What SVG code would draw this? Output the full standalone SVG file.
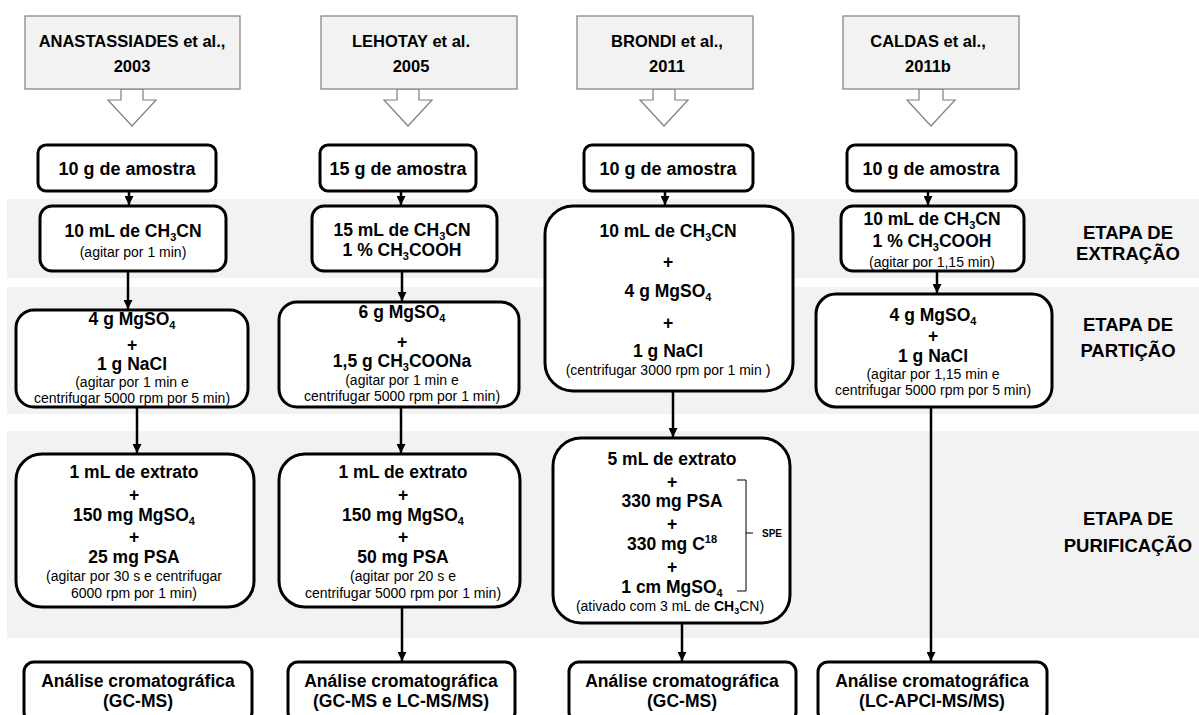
<svg xmlns="http://www.w3.org/2000/svg" width="1199" height="715" viewBox="0 0 1199 715">
<style>
text{font-family:"Liberation Sans",Arial,sans-serif;fill:#000;text-anchor:middle}
.h{font-size:16.5px;font-weight:bold}
.t{font-size:17.5px;font-weight:bold}
.a{font-size:18px;font-weight:bold}
.s{font-size:14px}
.l{font-size:18.5px;font-weight:bold}
.spe{font-size:10px;font-weight:bold}
.band{fill:#f2f2f2}
.hdr{fill:#f2f2f2;stroke:#7f7f7f;stroke-width:1.2}
.harr{fill:#fff;stroke:#7f7f7f;stroke-width:1.2}
.box{fill:#fff;stroke:#000;stroke-width:3}
.con{stroke:#000;stroke-width:2.5;fill:none;marker-end:url(#ah)}
</style>
<defs>
<marker id="ah" viewBox="0 0 10 10" refX="10" refY="5" markerWidth="9" markerHeight="9" markerUnits="userSpaceOnUse" orient="auto">
<path d="M0,0 L10,5 L0,10 z" fill="#000"/>
</marker>
</defs>
<rect width="1199" height="715" fill="#fff"/>
<g id="bands">
<rect class="band" x="7" y="199" width="1192" height="79"/>
<rect class="band" x="7" y="287" width="1192" height="127"/>
<rect class="band" x="7" y="431" width="1192" height="207"/>
</g>
<g id="stage-labels">
<text class="l" x="1128" y="239">ETAPA DE</text>
<text class="l" x="1128" y="260">EXTRAÇÃO</text>
<text class="l" x="1128" y="331">ETAPA DE</text>
<text class="l" x="1128" y="357">PARTIÇÃO</text>
<text class="l" x="1128" y="525">ETAPA DE</text>
<text class="l" x="1128" y="552">PURIFICAÇÃO</text>
</g>
<g id="connectors">
<polygon class="harr" points="121,89 121,100 108,100 132,126 156,100 143,100 143,89"/>
<polygon class="harr" points="397,89 397,100 384,100 408,126 432,100 419,100 419,89"/>
<polygon class="harr" points="653,89 653,100 640,100 664,126 688,100 675,100 675,89"/>
<polygon class="harr" points="919,89 919,100 907,100 931,126 955,100 943,100 943,89"/>
<line class="con" x1="129" y1="191" x2="129" y2="205"/>
<line class="con" x1="128" y1="271" x2="128" y2="309"/>
<line class="con" x1="137" y1="407" x2="137" y2="453"/>
<line class="con" x1="401" y1="191" x2="401" y2="205"/>
<line class="con" x1="402" y1="271" x2="402" y2="301"/>
<line class="con" x1="401" y1="407" x2="401" y2="453"/>
<line class="con" x1="402" y1="607" x2="402" y2="661"/>
<line class="con" x1="665" y1="191" x2="665" y2="205"/>
<line class="con" x1="673" y1="391" x2="673" y2="437"/>
<line class="con" x1="682" y1="623" x2="682" y2="661"/>
<line class="con" x1="928" y1="191" x2="928" y2="205"/>
<line class="con" x1="937" y1="271" x2="937" y2="293"/>
<line class="con" x1="931" y1="407" x2="931" y2="661"/>
</g>
<g id="hdr1">
<rect class="hdr" x="25" y="16" width="215" height="73"/>
<text class="h" x="132" y="47">ANASTASSIADES et al.,</text>
<text class="h" x="132" y="72">2003</text>
</g>
<g id="hdr2">
<rect class="hdr" x="321" y="16" width="196" height="73"/>
<text class="h" x="411" y="47">LEHOTAY et al.</text>
<text class="h" x="411" y="72">2005</text>
</g>
<g id="hdr3">
<rect class="hdr" x="577" y="16" width="176" height="73"/>
<text class="h" x="667" y="47">BRONDI et al.,</text>
<text class="h" x="667" y="72">2011</text>
</g>
<g id="hdr4">
<rect class="hdr" x="843" y="16" width="176" height="73"/>
<text class="h" x="928" y="47">CALDAS et al.,</text>
<text class="h" x="928" y="72">2011b</text>
</g>
<g id="c1-amostra">
<rect class="box" x="38" y="145" width="178" height="46" rx="8"/>
<text class="a" x="127" y="175">10 g de amostra</text>
</g>
<g id="c2-amostra">
<rect class="box" x="320" y="145" width="156" height="46" rx="8"/>
<text class="a" x="398" y="175">15 g de amostra</text>
</g>
<g id="c3-amostra">
<rect class="box" x="584" y="145" width="169" height="46" rx="8"/>
<text class="a" x="668" y="175">10 g de amostra</text>
</g>
<g id="c4-amostra">
<rect class="box" x="847" y="145" width="169" height="46" rx="8"/>
<text class="a" x="931" y="175">10 g de amostra</text>
</g>
<g id="c1-extracao">
<rect class="box" x="40" y="206" width="186" height="65" rx="12"/>
<text class="t" x="133" y="237">10 mL de CH<tspan font-size="11" dy="4">3</tspan><tspan dy="-4">CN</tspan></text>
<text class="s" x="133" y="257">(agitar por 1 min)</text>
</g>
<g id="c2-extracao">
<rect class="box" x="312" y="206" width="185" height="65" rx="12"/>
<text class="t" x="402" y="236">15 mL de CH<tspan font-size="11" dy="4">3</tspan><tspan dy="-4">CN</tspan></text>
<text class="t" x="402" y="256">1 % CH<tspan font-size="11" dy="4">3</tspan><tspan dy="-4">COOH</tspan></text>
</g>
<g id="c3-extracao-particao">
<rect class="box" x="545" y="206" width="248" height="185" rx="28"/>
<text class="t" x="668" y="237">10 mL de CH<tspan font-size="11" dy="4">3</tspan><tspan dy="-4">CN</tspan></text>
<text class="t" x="668" y="268">+</text>
<text class="t" x="668" y="297">4 g MgSO<tspan font-size="11" dy="4">4</tspan></text>
<text class="t" x="668" y="329">+</text>
<text class="t" x="668" y="357">1 g NaCl</text>
<text class="s" x="668" y="375">(centrifugar 3000  rpm por 1 min )</text>
</g>
<g id="c4-extracao">
<rect class="box" x="841" y="206" width="183" height="65" rx="12"/>
<text class="t" x="932" y="225">10 mL de CH<tspan font-size="11" dy="4">3</tspan><tspan dy="-4">CN</tspan></text>
<text class="t" x="932" y="247">1 % CH<tspan font-size="11" dy="4">3</tspan><tspan dy="-4">COOH</tspan></text>
<text class="s" x="932" y="267">(agitar por 1,15 min)</text>
</g>
<g id="c1-particao">
<rect class="box" x="16" y="310" width="232" height="97" rx="18"/>
<text class="t" x="132" y="325">4 g MgSO<tspan font-size="11" dy="4">4</tspan></text>
<text class="t" x="132" y="351">+</text>
<text class="t" x="132" y="370">1 g NaCl</text>
<text class="s" x="132" y="387">(agitar por 1 min e</text>
<text class="s" x="132" y="403">centrifugar 5000  rpm por 5 min)</text>
</g>
<g id="c2-particao">
<rect class="box" x="279" y="302" width="240" height="105" rx="18"/>
<text class="t" x="402" y="318">6 g MgSO<tspan font-size="11" dy="4">4</tspan></text>
<text class="t" x="402" y="348">+</text>
<text class="t" x="402" y="367">1,5 g CH<tspan font-size="11" dy="4">3</tspan><tspan dy="-4">COONa</tspan></text>
<text class="s" x="402" y="385">(agitar por 1 min e</text>
<text class="s" x="402" y="401">centrifugar 5000  rpm por 1 min)</text>
</g>
<g id="c4-particao">
<rect class="box" x="816" y="294" width="236" height="113" rx="20"/>
<text class="t" x="933" y="321">4 g MgSO<tspan font-size="11" dy="4">4</tspan></text>
<text class="t" x="933" y="342">+</text>
<text class="t" x="933" y="362">1 g NaCl</text>
<text class="s" x="933" y="379">(agitar por 1,15 min  e</text>
<text class="s" x="933" y="395">centrifugar 5000 rpm por 5 min)</text>
</g>
<g id="c1-purificacao">
<rect class="box" x="16" y="454" width="238" height="153" rx="26"/>
<text class="t" x="134" y="478">1 mL de extrato</text>
<text class="t" x="134" y="501">+</text>
<text class="t" x="134" y="521">150 mg MgSO<tspan font-size="11" dy="4">4</tspan></text>
<text class="t" x="134" y="543">+</text>
<text class="t" x="134" y="563">25 mg PSA</text>
<text class="s" x="134" y="581">(agitar por 30 s  e centrifugar</text>
<text class="s" x="134" y="598">6000 rpm por 1 min)</text>
</g>
<g id="c2-purificacao">
<rect class="box" x="279" y="454" width="241" height="153" rx="26"/>
<text class="t" x="403" y="478">1 mL de extrato</text>
<text class="t" x="403" y="501">+</text>
<text class="t" x="403" y="521">150 mg MgSO<tspan font-size="11" dy="4">4</tspan></text>
<text class="t" x="403" y="543">+</text>
<text class="t" x="403" y="563">50 mg PSA</text>
<text class="s" x="403" y="581">(agitar por 20 s  e</text>
<text class="s" x="403" y="598">centrifugar 5000  rpm por 1 min)</text>
</g>
<g id="c3-purificacao">
<rect class="box" x="553" y="438" width="237" height="185" rx="28"/>
<text class="t" x="672" y="465">5 mL de extrato</text>
<text class="t" x="672" y="488">+</text>
<text class="t" x="672" y="507">330 mg PSA</text>
<text class="t" x="672" y="530">+</text>
<text class="t" x="672" y="550">330 mg C<tspan font-size="11" dy="-7">18</tspan></text>
<text class="t" x="672" y="573">+</text>
<text class="t" x="672" y="593">1 cm MgSO<tspan font-size="11" dy="4">4</tspan></text>
<text class="s" x="670" y="611">(ativado com 3 mL de <tspan font-weight="bold">CH</tspan><tspan font-weight="bold" font-size="9" dy="3">3</tspan><tspan dy="-3">CN)</tspan></text>
<path d="M737,480 H746 V591 H737 M746,533 H753" fill="none" stroke="#000" stroke-width="1"/>
<text class="spe" x="772" y="537">SPE</text>
</g>
<g id="c1-analise">
<rect class="box" x="24" y="662" width="228" height="60" rx="10"/>
<text class="t" x="138" y="687">Análise cromatográfica</text>
<text class="t" x="138" y="707">(GC-MS)</text>
</g>
<g id="c2-analise">
<rect class="box" x="288" y="662" width="227" height="60" rx="10"/>
<text class="t" x="401" y="687">Análise cromatográfica</text>
<text class="t" x="401" y="707">(GC-MS e LC-MS/MS)</text>
</g>
<g id="c3-analise">
<rect class="box" x="569" y="662" width="227" height="60" rx="10"/>
<text class="t" x="682" y="687">Análise cromatográfica</text>
<text class="t" x="682" y="707">(GC-MS)</text>
</g>
<g id="c4-analise">
<rect class="box" x="818" y="662" width="229" height="60" rx="10"/>
<text class="t" x="932" y="687">Análise cromatográfica</text>
<text class="t" x="932" y="707">(LC-APCI-MS/MS)</text>
</g>
</svg>
